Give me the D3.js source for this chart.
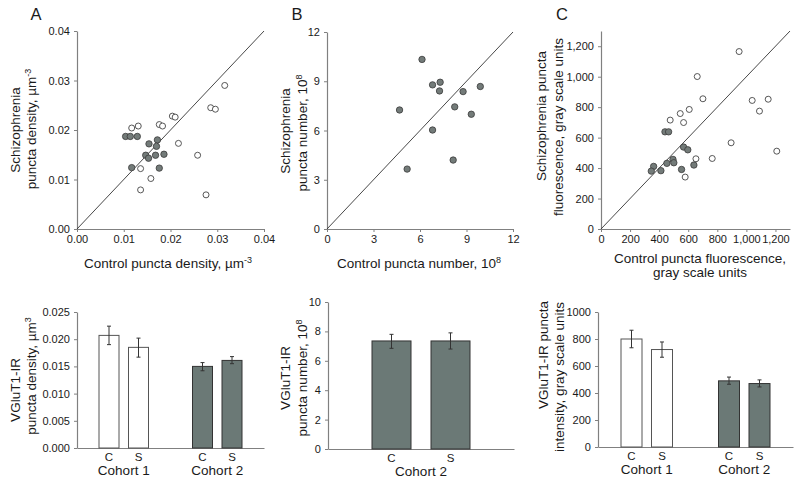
<!DOCTYPE html>
<html>
<head>
<meta charset="utf-8">
<script src="https://cdn.jsdelivr.net/npm/d3@7"></script>
<style>
  body { margin: 0; background: #fff; }
  svg { font-family: "Liberation Sans", Arial, sans-serif; }
</style>
</head>
<body>
<svg id="chart" width="799" height="481"></svg>
<script>
// ---------------- DATA ----------------
// Panel A scatter: puncta density (control x, schizophrenia y)
const densityOpen = [
  [0.0117, 0.0204], [0.0131, 0.0208], [0.0176, 0.0211], [0.0183, 0.0208],
  [0.0204, 0.0228], [0.0210, 0.0226], [0.0217, 0.0173], [0.0136, 0.0122],
  [0.0158, 0.0102], [0.0136, 0.0079], [0.0258, 0.0149], [0.0276, 0.0069],
  [0.0286, 0.0245], [0.0296, 0.0242], [0.0316, 0.0290]
];
const densityFilled = [
  [0.0104, 0.0187], [0.0114, 0.0187], [0.0129, 0.0187], [0.0172, 0.0180],
  [0.0154, 0.0172], [0.0170, 0.0167], [0.0147, 0.0149], [0.0153, 0.0143],
  [0.0168, 0.0149], [0.0186, 0.0151], [0.0117, 0.0124], [0.0176, 0.0123]
];
const densityTicks = [0, 0.01, 0.02, 0.03, 0.04];

// Panel B scatter: puncta number (10^8)
const numberFilled = [
  [6.13, 10.33], [4.68, 7.25], [6.81, 8.78], [7.30, 8.94], [7.26, 8.41],
  [8.78, 8.37], [9.89, 8.68], [8.24, 7.44], [9.31, 6.99], [6.81, 6.03],
  [8.14, 4.20], [5.17, 3.65]
];
const numberTicks = [0, 3, 6, 9, 12];

// Panel C scatter: puncta fluorescence (gray scale units)
const fluorOpen = [
  [950, 1165], [662, 1001], [701, 855], [607, 785], [545, 758], [476, 715],
  [568, 699], [1040, 844], [1090, 774], [1150, 852], [1209, 511], [895, 566],
  [765, 463], [653, 461], [579, 341]
];
const fluorFilled = [
  [440, 638], [465, 638], [568, 538], [597, 520], [495, 457], [501, 435],
  [453, 431], [362, 411], [346, 380], [412, 383], [554, 391], [639, 420]
];
const fluorTicks = [0, 200, 400, 600, 800, 1000, 1200];

// Bar panels: [cohort, group, mean, low, high]
const cohorts = ["Cohort 1", "Cohort 2"];
const groups = ["C", "S"];
const densityBars = [
  ["Cohort 1", "C", 0.0207, 0.0190, 0.0224],
  ["Cohort 1", "S", 0.0185, 0.0167, 0.0202],
  ["Cohort 2", "C", 0.0150, 0.0142, 0.0157],
  ["Cohort 2", "S", 0.0161, 0.0155, 0.0168]
];
const densityBarTicks = [0, 0.005, 0.010, 0.015, 0.020, 0.025];
const numberBars = [
  ["Cohort 2", "C", 7.35, 6.85, 7.80],
  ["Cohort 2", "S", 7.35, 6.80, 7.90]
];
const numberBarTicks = [0, 2, 4, 6, 8, 10];
const intensityBars = [
  ["Cohort 1", "C", 800, 735, 865],
  ["Cohort 1", "S", 722, 665, 778],
  ["Cohort 2", "C", 490, 465, 518],
  ["Cohort 2", "S", 470, 445, 497]
];
const intensityBarTicks = [0, 200, 400, 600, 800, 1000];

// ---------------- STYLE ----------------
const AXIS = "#808080";
const TEXT = "#1a1a1a";
const DARK = "#6b7976";
const DOT = "#737b79";

const svg = d3.select("#chart");

function styleAxis(g) {
  g.select(".domain").attr("stroke", AXIS).attr("stroke-width", 1.2);
  g.selectAll(".tick line").attr("stroke", AXIS);
  g.selectAll(".tick text").attr("fill", TEXT).attr("font-size", 11);
}

function vTitle(x, y, parts) {
  const t = svg.append("text")
    .attr("transform", `translate(${x},${y}) rotate(-90)`)
    .attr("text-anchor", "middle").attr("dy", "0.35em")
    .attr("font-size", 13.5).attr("fill", TEXT);
  addParts(t, parts);
}
function hTitle(x, y, parts) {
  const t = svg.append("text").attr("x", x).attr("y", y)
    .attr("text-anchor", "middle").attr("font-size", 13.5).attr("fill", TEXT);
  addParts(t, parts);
}
function addParts(t, parts) {
  parts.forEach(p => {
    if (typeof p === "string") t.append("tspan").text(p);
    else t.append("tspan").attr("dy", -5).attr("font-size", 9).text(p.sup);
  });
}

function scatter(cfg) {
  const x = d3.scaleLinear().domain(cfg.domain).range([cfg.x0, cfg.x1]);
  const y = d3.scaleLinear().domain(cfg.domain).range([cfg.y0, cfg.y1]);
  const gx = svg.append("g").attr("transform", `translate(0,${cfg.y0})`)
    .call(d3.axisBottom(x).tickValues(cfg.ticks).tickSize(3).tickSizeOuter(0).tickFormat(cfg.fmt));
  styleAxis(gx);
  const gy = svg.append("g").attr("transform", `translate(${cfg.x0},0)`)
    .call(d3.axisLeft(y).tickValues(cfg.ticks).tickSize(3).tickSizeOuter(0).tickFormat(cfg.fmt));
  styleAxis(gy);
  gy.selectAll(".tick text").attr("dx", "-0.1em");
  svg.append("line")
    .attr("x1", x(cfg.domain[0])).attr("y1", y(cfg.domain[0]))
    .attr("x2", x(cfg.domain[1])).attr("y2", y(cfg.domain[1]))
    .attr("stroke", "#333").attr("stroke-width", 0.9);
  svg.append("g").selectAll("circle").data(cfg.open).join("circle")
    .attr("cx", d => x(d[0])).attr("cy", d => y(d[1])).attr("r", 3)
    .attr("fill", "#fff").attr("stroke", "#444").attr("stroke-width", 0.9);
  svg.append("g").selectAll("circle").data(cfg.filled).join("circle")
    .attr("cx", d => x(d[0])).attr("cy", d => y(d[1])).attr("r", 3.2)
    .attr("fill", DOT).attr("stroke", "#3a3a3a").attr("stroke-width", 0.8);
}

function bars(cfg) {
  const outer = d3.scalePoint().domain(cfg.cohorts).range([cfg.x0, cfg.x1]).padding(0.5);
  const inner = d3.scalePoint().domain(groups).range([-cfg.half, cfg.half]);
  const y = d3.scaleLinear().domain(cfg.domain).range([cfg.y0, cfg.y1]);
  const gx = svg.append("g").attr("transform", `translate(0,${cfg.y0})`)
    .call(d3.axisBottom(d3.scaleLinear().range([cfg.x0, cfg.x1])).tickValues([]).tickSizeOuter(0));
  styleAxis(gx);
  const gy = svg.append("g").attr("transform", `translate(${cfg.x0},0)`)
    .call(d3.axisLeft(y).tickValues(cfg.ticks).tickSize(3).tickSizeOuter(0).tickFormat(cfg.fmt));
  styleAxis(gy);
  gy.selectAll(".tick text").attr("dx", "-0.1em");
  const cx = d => outer(d[0]) + inner(d[1]);
  svg.append("g").selectAll("rect").data(cfg.data).join("rect")
    .attr("x", d => cx(d) - cfg.bw / 2).attr("width", cfg.bw)
    .attr("y", d => y(d[2])).attr("height", d => y(cfg.domain[0]) - y(d[2]))
    .attr("fill", d => d[0] === "Cohort 1" ? "#fff" : DARK)
    .attr("stroke", d => d[0] === "Cohort 1" ? "#555" : "#333").attr("stroke-width", 1);
  const eb = svg.append("g").attr("stroke", "#333").attr("stroke-width", 1);
  cfg.data.forEach(d => {
    eb.append("line").attr("x1", cx(d)).attr("x2", cx(d)).attr("y1", y(d[3])).attr("y2", y(d[4]));
    eb.append("line").attr("x1", cx(d) - 2).attr("x2", cx(d) + 2).attr("y1", y(d[3])).attr("y2", y(d[3]));
    eb.append("line").attr("x1", cx(d) - 2).attr("x2", cx(d) + 2).attr("y1", y(d[4])).attr("y2", y(d[4]));
  });
  svg.append("g").selectAll("text").data(cfg.data).join("text")
    .attr("x", cx).attr("y", cfg.y0 + 13).attr("text-anchor", "middle")
    .attr("font-size", 11.5).attr("fill", TEXT).text(d => d[1]);
  svg.append("g").selectAll("text").data(cfg.cohorts).join("text")
    .attr("x", d => outer(d)).attr("y", cfg.y0 + 27).attr("text-anchor", "middle")
    .attr("font-size", 13.5).attr("fill", TEXT).text(d => d);
}

// ---------- Panel letters ----------
[["A", 36], ["B", 297], ["C", 562]].forEach(([t, x]) => {
  svg.append("text").attr("x", x).attr("y", 20).attr("text-anchor", "middle")
    .attr("font-size", 16.5).attr("fill", TEXT).text(t);
});

// ---------- Scatter panels ----------
scatter({ domain: [0, 0.04], ticks: densityTicks, fmt: d3.format(".2f"),
  x0: 77, x1: 264, y0: 229, y1: 31, open: densityOpen, filled: densityFilled });
scatter({ domain: [0, 12], ticks: numberTicks, fmt: d3.format("d"),
  x0: 327, x1: 513, y0: 229, y1: 32, open: [], filled: numberFilled });
scatter({ domain: [0, 1300], ticks: fluorTicks, fmt: d3.format(",d"),
  x0: 601, x1: 790, y0: 229, y1: 31, open: fluorOpen, filled: fluorFilled });

vTitle(15, 130, ["Schizophrenia"]);
vTitle(31, 129, ["puncta density, \u00B5m", { sup: "-3" }]);
hTitle(168, 268, ["Control puncta density, \u00B5m", { sup: "-3" }]);

vTitle(285, 131, ["Schizophrenia"]);
vTitle(302, 133, ["puncta number, 10", { sup: "8" }]);
hTitle(419, 268, ["Control puncta number, 10", { sup: "8" }]);

vTitle(541, 116, ["Schizophrenia puncta"]);
vTitle(558, 127, ["fluorescence, gray scale units"]);
hTitle(700, 263, ["Control puncta fluorescence,"]);
hTitle(700, 277, ["gray scale units"]);

// ---------- Bar panels ----------
bars({ cohorts: cohorts, data: densityBars, domain: [0, 0.025], ticks: densityBarTicks,
  fmt: d3.format(".3f"), x0: 77, x1: 264, y0: 448, y1: 312, half: 14.75, bw: 20 });
bars({ cohorts: ["Cohort 2"], data: numberBars, domain: [0, 10], ticks: numberBarTicks,
  fmt: d3.format("d"), x0: 328, x1: 514, y0: 449, y1: 302, half: 29.5, bw: 39 });
bars({ cohorts: cohorts, data: intensityBars, domain: [0, 1000], ticks: intensityBarTicks,
  fmt: d3.format("d"), x0: 598, x1: 793, y0: 447, y1: 312, half: 15.25, bw: 21 });

vTitle(15, 390, ["VGluT1-IR"]);
vTitle(31, 376, ["puncta density, \u00B5m", { sup: "3" }]);
vTitle(285, 378, ["VGluT1-IR"]);
vTitle(302, 378, ["puncta number, 10", { sup: "8" }]);
vTitle(543, 355, ["VGluT1-IR puncta"]);
vTitle(559, 377, ["intensity, gray scale units"]);
</script>
</body>
</html>
